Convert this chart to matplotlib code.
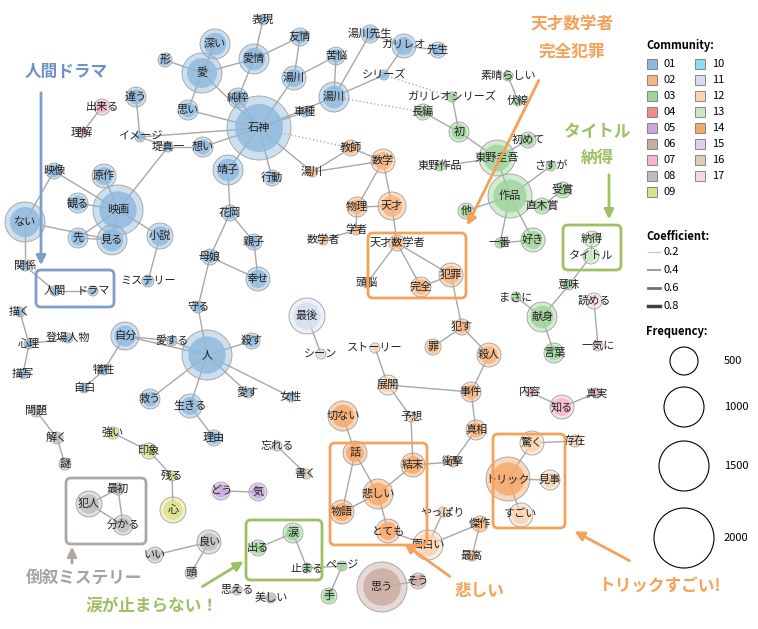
import matplotlib
matplotlib.use("Agg")
import matplotlib.pyplot as plt
from matplotlib.patches import Circle, FancyBboxPatch, FancyArrowPatch

plt.rcParams['font.family'] = ['Noto Sans CJK JP', 'DejaVu Sans']

comm_colors = {1:'#8fb8dc',2:'#f6b47f',3:'#9fd39a',4:'#f08c8c',5:'#c9a7e0',6:'#c9aaa0',
               7:'#f4b5cf',8:'#bdbdbd',9:'#dde08a',10:'#8fdde8',11:'#d5def0',12:'#fad3b0',
               13:'#c9e8c0',14:'#f5a86a',15:'#dcd0ea',16:'#dccbb8',17:'#f8d8e2'}

# id: (label, x, y, radius, community)
nodes = {
 '表現':('表現',263,20,5,1),'深い':('深い',215,44,15,1),'愛':('愛',202,73,20,1),'愛情':('愛情',254,59,15,1),
 '友情':('友情',300,37,9,1),'苦悩':('苦悩',336,56,9,1),'湯川先生':('湯川先生',370,34,9,1),
 'ガリレオ':('ガリレオ',404,46,12,1),'先生':('先生',438,50,8,1),'形':('形',165,60,7,1),
 '違う':('違う',136,97,10,1),'出来る':('出来る',102,107,8,7),'理解':('理解',82,133,5,7),
 '思い':('思い',188,110,10,1),'純粋':('純粋',238,98,10,1),'湯川1':('湯川',294,78,12,1),
 '湯川2':('湯川',334,97,15,1),'石神':('石神',259,128,32,1),'シリーズ':('シリーズ',384,75,5,1),
 '車種':('車種',305,112,5,1),'イメージ':('イメージ',140,137,5,1),'想い':('想い',203,147,10,1),
 '堤真一':('堤真一',168,147,5,1),'靖子':('靖子',228,170,15,1),'行動':('行動',272,178,8,1),
 '映像':('映像',54,171,8,1),'原作':('原作',104,176,12,1),'観る':('観る',78,203,10,1),
 '映画':('映画',118,210,25,1),'ない':('ない',25,222,20,1),'先':('先',78,238,10,1),
 '見る':('見る',112,240,15,1),'小説':('小説',160,236,13,1),'花岡':('花岡',230,213,8,1),
 '親子':('親子',254,242,8,1),'母娘':('母娘',210,257,8,1),'幸せ':('幸せ',258,279,12,1),
 'ミステリー':('ミステリー',148,281,6,1),'関係':('関係',25,266,5,1),'人間':('人間',55,291,5,1),
 'ドラマ':('ドラマ',93,291,5,1),'守る':('守る',198,307,6,1),'最後':('最後',307,316,18,11),
 'シーン':('シーン',321,354,5,11),'自分':('自分',125,336,14,1),'人':('人',207,355,25,1),
 '殺す':('殺す',252,341,8,1),'愛する':('愛する',172,341,5,1),'登場人物':('登場人物',68,338,5,1),
 '描く':('描く',20,312,5,1),'心理':('心理',29,344,5,1),'描写':('描写',23,374,5,1),
 '犠牲':('犠牲',104,370,5,1),'自白':('自白',84,388,5,1),'救う':('救う',150,399,10,1),
 '生きる':('生きる',190,406,12,1),'愛す':('愛す',248,393,5,1),'女性':('女性',291,397,5,1),
 '理由':('理由',214,438,8,1),'問題':('問題',36,411,6,8),'解く':('解く',57,438,6,8),'謎':('謎',65,464,6,8),
 '教師':('教師',351,148,8,2),'湯川3':('湯川',312,172,5,2),'数学':('数学',383,161,12,2),
 '物理':('物理',357,207,10,2),'天才':('天才',392,206,14,2),'学者':('学者',356,230,5,2),
 '数学者':('数学者',323,240,5,2),'天才数学者':('天才数学者',397,243,8,2),'犯罪':('犯罪',451,275,12,2),
 '頭脳':('頭脳',367,283,5,2),'完全':('完全',421,287,10,2),'犯す':('犯す',462,327,8,2),
 '罪':('罪',433,347,8,2),'殺人':('殺人',489,355,12,2),'ストーリー':('ストーリー',375,348,5,12),
 '展開':('展開',388,385,10,12),'事件':('事件',471,392,10,2),'予想':('予想',411,417,5,12),
 '真相':('真相',476,430,10,2),'切ない':('切ない',343,416,15,14),'話':('話',355,453,12,14),
 '結末':('結末',413,465,12,14),'衝撃':('衝撃',453,462,5,2),'悲しい':('悲しい',378,494,15,14),
 '物語':('物語',342,512,12,14),'とても':('とても',388,531,12,14),'やっぱり':('やっぱり',443,512,5,12),
 '面白い':('面白い',428,545,15,12),'傑作':('傑作',480,524,8,2),'最高':('最高',472,556,5,2),
 '驚く':('驚く',532,443,12,12),'存在':('存在',575,441,6,12),'トリック':('トリック',508,479,22,14),
 '見事':('見事',550,480,10,12),'すごい':('すごい',521,515,12,12),'内容':('内容',530,392,5,7),
 '知る':('知る',562,407,12,7),'真実':('真実',596,393,5,7),
 'ガリレオシリーズ':('ガリレオシリーズ',452,97,5,3),'素晴らしい':('素晴らしい',508,76,5,3),
 '伏線':('伏線',518,101,5,3),'長編':('長編',423,112,8,3),'初':('初',459,132,10,3),
 '初めて':('初めて',528,140,8,3),'東野圭吾':('東野圭吾',497,158,18,3),'さすが':('さすが',551,166,5,3),
 '東野作品':('東野作品',440,166,5,3),'作品':('作品',510,196,22,3),'受賞':('受賞',563,190,8,3),
 '直木賞':('直木賞',542,206,8,3),'他':('他',466,211,8,3),'好き':('好き',533,240,12,3),
 '一番':('一番',500,243,5,3),'納得':('納得',592,239,8,13),'タイトル':('タイトル',591,256,8,13),
 '意味':('意味',569,285,5,3),'まさに':('まさに',516,297,5,3),'献身':('献身',542,317,15,3),
 '読める':('読める',594,301,8,17),'言葉':('言葉',554,353,10,3),'一気に':('一気に',598,346,5,17),
 '強い':('強い',113,433,6,9),'印象':('印象',149,451,8,9),'残る':('残る',172,476,5,9),
 '心':('心',173,510,13,9),'忘れる':('忘れる',277,446,5,16),'書く':('書く',306,474,5,16),
 'どう':('どう',221,491,9,5),'気':('気',258,492,9,5),'犯人':('犯人',89,504,13,8),
 '最初':('最初',118,489,6,8),'分かる':('分かる',123,525,10,8),'いい':('いい',155,555,8,8),
 '良い':('良い',209,542,12,8),'頭':('頭',191,573,6,8),'思える':('思える',237,590,5,8),
 '美しい':('美しい',271,598,5,8),'出る':('出る',258,548,8,3),'涙':('涙',293,533,10,3),
 '止まる':('止まる',307,568,5,3),'ページ':('ページ',342,566,5,3),'手':('手',329,596,8,3),
 '思う':('思う',382,587,25,6),'そう':('そう',418,581,8,6),
}

edges = [
 ('石神','愛'),('石神','純粋'),('石神','湯川1'),('石神','湯川2'),('石神','思い'),('石神','想い'),
 ('石神','靖子'),('石神','行動'),('石神','車種'),('石神','イメージ'),('愛','深い'),('愛','愛情'),
 ('愛情','表現'),('愛情','友情'),('愛情','純粋'),('湯川1','友情'),('湯川1','苦悩'),('苦悩','湯川2'),
 ('湯川2','湯川先生'),('湯川先生','ガリレオ'),('ガリレオ','先生'),('ガリレオ','シリーズ'),
 ('シリーズ','湯川2'),('愛','形'),('愛','思い'),('違う','イメージ'),('イメージ','堤真一'),
 ('堤真一','想い'),('出来る','理解'),('映画','原作'),('映画','観る'),('映画','見る'),('映画','映像'),
 ('映画','先'),('映画','堤真一'),('見る','先'),('見る','ない'),('ない','関係'),('ない','映像'),
 ('関係','人間'),('人間','ドラマ'),('小説','映画'),('小説','ミステリー'),('靖子','花岡'),
 ('花岡','親子'),('親子','幸せ'),('花岡','母娘'),('母娘','幸せ'),('母娘','守る'),('守る','人'),
 ('人','自分'),('人','愛する'),('人','殺す'),('人','生きる'),('人','救う'),('人','愛す'),('人','女性'),
 ('自分','犠牲'),('自分','愛する'),('犠牲','自白'),('描く','心理'),('心理','描写'),('心理','登場人物'),
 ('最後','シーン'),('生きる','理由'),('問題','解く'),('解く','謎'),('強い','印象'),('印象','残る'),
 ('残る','心'),('忘れる','書く'),('どう','気'),('犯人','最初'),('犯人','分かる'),('最初','分かる'),
 ('いい','良い'),('良い','頭'),('出る','涙'),('涙','止まる'),('止まる','ページ'),('ページ','手'),
 ('思う','そう'),('教師','数学'),('数学','湯川3'),('数学','天才'),('数学','物理'),('物理','天才'),
 ('物理','学者'),('学者','数学者'),('天才','天才数学者'),('天才数学者','犯罪'),('天才数学者','完全'),
 ('完全','犯罪'),('天才数学者','頭脳'),('犯罪','犯す'),('犯す','罪'),('犯す','殺人'),('殺人','事件'),
 ('事件','展開'),('展開','ストーリー'),('展開','予想'),('予想','結末'),('事件','真相'),('真相','衝撃'),
 ('結末','衝撃'),('切ない','話'),('話','悲しい'),('結末','悲しい'),('悲しい','物語'),('悲しい','とても'),
 ('話','物語'),('とても','面白い'),('面白い','やっぱり'),('面白い','傑作'),('傑作','最高'),
 ('驚く','トリック'),('トリック','見事'),('トリック','すごい'),('驚く','存在'),('内容','知る'),
 ('知る','真実'),('初','長編'),('初','東野圭吾'),('初','ガリレオシリーズ'),('東野圭吾','東野作品'),
 ('東野圭吾','作品'),('東野圭吾','初めて'),('素晴らしい','伏線'),('作品','さすが'),('作品','他'),
 ('作品','好き'),('作品','一番'),('作品','直木賞'),('直木賞','受賞'),('好き','一番'),
 ('納得','タイトル'),('意味','タイトル'),('意味','献身'),('まさに','献身'),('献身','言葉'),
 ('読める','一気に'),('湯川3','教師'),('石神','湯川3'),
]
dotted_edges = [('シリーズ','ガリレオシリーズ'),('石神','教師'),('湯川2','長編')]

fig = plt.figure(figsize=(7.58,6.29), dpi=100)
ax = fig.add_axes([0,0,1,1])
ax.set_xlim(0,758); ax.set_ylim(629,0); ax.axis('off')

for a,b in edges:
    ax.plot([nodes[a][1],nodes[b][1]],[nodes[a][2],nodes[b][2]],color='#a8a8a8',lw=1,zorder=1)
for a,b in dotted_edges:
    ax.plot([nodes[a][1],nodes[b][1]],[nodes[a][2],nodes[b][2]],color='#b0b0b0',lw=1,ls=':',zorder=1)

for k,(lab,x,y,r,c) in nodes.items():
    col = comm_colors[c]
    ax.add_patch(Circle((x,y),r,facecolor=col,edgecolor='none',alpha=0.45,zorder=2))
    ax.add_patch(Circle((x,y),r*0.75,facecolor=col,edgecolor='none',alpha=0.8,zorder=2))
    ax.add_patch(Circle((x,y),r,facecolor='none',edgecolor='#a0a0a0',lw=0.6,zorder=2))
    ax.text(x,y,lab,fontsize=8,ha='center',va='center',color='#222222',zorder=3)

def box(x0,y0,x1,y1,col):
    ax.add_patch(FancyBboxPatch((x0,y0),x1-x0,y1-y0,boxstyle='round,pad=0,rounding_size=5',
                 fill=False,edgecolor=col,lw=2,zorder=4))
def arrow(x0,y0,x1,y1,col):
    ax.add_patch(FancyArrowPatch((x0,y0),(x1,y1),arrowstyle='-|>',mutation_scale=14,color=col,lw=2,zorder=4))

blue='#7c9fcc'; orange='#f5a15a'; green='#9ec064'; grey='#b0a8a0'
box(36,270,114,307,blue); ax.text(66,72,'人間ドラマ',fontsize=12,fontweight='bold',color='#6b93c9',ha='center',va='center'); arrow(41,90,41,268,blue)
box(368,233,466,298,orange); ax.text(572,25,'天才数学者',fontsize=12,fontweight='bold',color=orange,ha='center',va='center')
ax.text(572,52,'完全犯罪',fontsize=12,fontweight='bold',color=orange,ha='center',va='center'); arrow(540,78,466,228,orange)
box(563,225,621,270,green); ax.text(597,132,'タイトル',fontsize=12,fontweight='bold',color=green,ha='center',va='center')
ax.text(597,158,'納得',fontsize=12,fontweight='bold',color=green,ha='center',va='center'); arrow(609,172,609,222,green)
box(66,478,146,544,grey); ax.text(84,579,'倒叙ミステリー',fontsize=12,fontweight='bold',color='#a8a29e',ha='center',va='center'); arrow(72,566,72,544,grey)
box(246,520,322,580,green); ax.text(152,606,'涙が止まらない！',fontsize=12,fontweight='bold',color=green,ha='center',va='center'); arrow(200,588,246,560,green)
box(330,443,427,545,orange); ax.text(480,591,'悲しい',fontsize=12,fontweight='bold',color=orange,ha='center',va='center'); arrow(452,578,402,542,orange)
box(493,434,565,528,orange); ax.text(660,586,'トリックすごい!',fontsize=12,fontweight='bold',color=orange,ha='center',va='center'); arrow(632,562,572,530,orange)

# legend
ax.text(646,46,'Community:',fontsize=8,fontweight='bold',ha='left',va='center')
for i in range(17):
    col_x = 652 if i < 9 else 700
    y = 64 + 16*(i if i < 9 else i-9)
    ax.add_patch(plt.Rectangle((col_x-5,y-5),10,10,facecolor=comm_colors[i+1],edgecolor='#777777',lw=0.6))
    ax.text(col_x+12,y,f'{i+1:02d}',fontsize=8,ha='left',va='center')
ax.text(646,236,'Coefficient:',fontsize=8,fontweight='bold',ha='left',va='center')
coefs=[0.2,0.4,0.6,0.8]
coef_cols=['#c8c8c8','#a0a0a0','#707070','#404040']
for i,(cv,cc) in enumerate(zip(coefs,coef_cols)):
    y=252+18*i
    ax.plot([648,660],[y,y],color=cc,lw=1+0.5*i)
    ax.text(664,y,f'{cv}',fontsize=8,ha='left',va='center')
ax.text(646,332,'Frequency:',fontsize=8,fontweight='bold',ha='left',va='center')
freqs=[500,1000,1500,2000]
freq_y=[361,407,466,538]; freq_r=[14,20,25,30]
for f,y,r in zip(freqs,freq_y,freq_r):
    ax.add_patch(Circle((684,y),r,facecolor='white',edgecolor='black',lw=0.8))
    ax.text(724,y,str(f),fontsize=8,ha='left',va='center')

fig.savefig('out.png',dpi=100)
